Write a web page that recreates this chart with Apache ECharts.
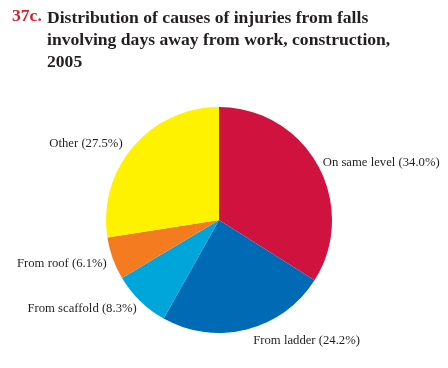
<!DOCTYPE html>
<html><head><meta charset="utf-8">
<script src="https://cdn.jsdelivr.net/npm/echarts@6/dist/echarts.min.js"></script>
<style>html,body{margin:0;padding:0;background:#fff}#c{width:448px;height:368px}</style>
</head><body><div id="c"></div>
<script>
var categories = ['On same level', 'From ladder', 'From scaffold', 'From roof', 'Other'];
var values = [34.0, 24.2, 8.3, 6.1, 27.5];
var colors = ['#CF123E', '#006AB5', '#00A5D9', '#F47B20', '#FFF200'];

var chart = echarts.init(document.getElementById('c'), null, {renderer: 'canvas'});
var data = categories.map(function (c, i) {
  return {name: c, value: values[i], itemStyle: {color: colors[i]}};
});
var labelNudgeX = [-1, 2, 2, 0, -5];
var labelNudgeY = [-2, 9, 6, 5, -2];
chart.setOption({
  animation: false,
  title: [
    {text: '37c.', left: 7, top: 2, textStyle: {fontFamily: 'Liberation Serif', fontWeight: 'bold', fontSize: 17.6, color: '#D3202F'}},
    {text: 'Distribution of causes of injuries from falls\ninvolving days away from work, construction,\n2005', left: 42, top: 2,
     textStyle: {fontFamily: 'Liberation Serif', fontWeight: 'bold', fontSize: 17.6, lineHeight: 22, color: '#231F20'}}
  ],
  series: [{
    type: 'pie',
    center: [219, 220],
    radius: 113,
    startAngle: 90,
    clockwise: true,
    data: data,
    label: {
      show: true,
      position: 'outside',
      overflow: 'none',
      distanceToLabelLine: 4,
      formatter: function (p) { return p.name + ' (' + p.value.toFixed(1) + '%)'; },
      fontFamily: 'Liberation Serif',
      fontSize: 12.7,
      color: '#231F20'
    },
    labelLine: {show: false, length: 2, length2: 0},
    labelLayout: function (p) { return {dx: labelNudgeX[p.dataIndex], dy: labelNudgeY[p.dataIndex]}; },
    emphasis: {disabled: true}
  }]
});
</script></body></html>
